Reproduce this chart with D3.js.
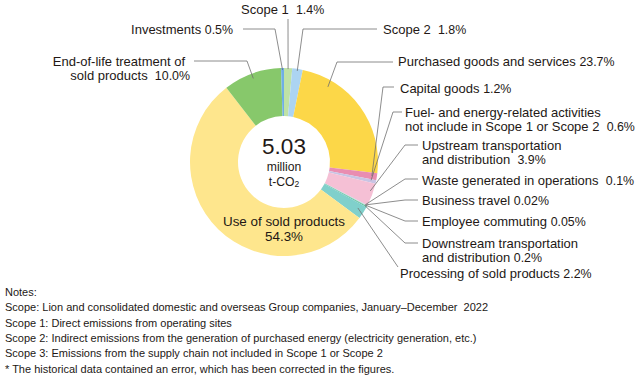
<!DOCTYPE html>
<html>
<head>
<meta charset="utf-8">
<script src="https://cdn.jsdelivr.net/npm/d3@7/dist/d3.min.js"></script>
<style>
  html, body { margin: 0; padding: 0; background: #fff; }
  svg text { font-family: "Liberation Sans", Arial, Helvetica, sans-serif; fill: #231815; white-space: pre; }
</style>
</head>
<body>
<svg id="chart" width="640" height="380"></svg>
<script>
// ---- Data (clockwise from 12 o'clock) ----
const categories = [
  "Scope 1", "Scope 2", "Purchased goods and services", "Capital goods",
  "Fuel- and energy-related activities", "Upstream transportation and distribution",
  "Waste generated in operations", "Business travel", "Employee commuting",
  "Downstream transportation and distribution", "Processing of sold products",
  "Use of sold products", "End-of-life treatment of sold products", "Investments"
];
const shares = [1.4, 1.8, 23.7, 1.2, 0.6, 3.9, 0.1, 0.02, 0.05, 0.2, 2.2, 54.3, 10.0, 0.5];
const shareLabels = ["1.4%", "1.8%", "23.7%", "1.2%", "0.6%", "3.9%", "0.1%", "0.02%", "0.05%", "0.2%", "2.2%", "54.3%", "10.0%", "0.5%"];
const totalValue = "5.03";
const totalUnit = ["million", "t-CO"];
const notes = [
  "Notes:",
  "Scope: Lion and consolidated domestic and overseas Group companies, January\u2013December  2022",
  "Scope 1: Direct emissions from operating sites",
  "Scope 2: Indirect emissions from the generation of purchased energy (electricity generation, etc.)",
  "Scope 3: Emissions from the supply chain not included in Scope 1 or Scope 2",
  "* The historical data contained an error, which has been corrected in the figures."
];

// ---- Styles / layout ----
const colors = ["#bfe2a6", "#acd4f2", "#fcd748", "#e98db1", "#c9c4e4", "#f5c0d5",
  "#b6d3ec", "#dddddd", "#7cc26c", "#64c2a4", "#80d0cb", "#fee68d", "#87c86b", "#6faee6"];

// label layout: text lines [text, percent, x], y of first line centre, anchor, leader points, anchor t & r on slice
const labelLayout = [
  {i:0, lines:[["Scope 1  ", "1.4%", 241]], y:9, anchor:"start", path:[[288,19]], t:0.5, r:93},
  {i:1, lines:[["Scope 2  ", "1.8%", 383]], y:29, anchor:"start", path:[[377,29],[303,29]], t:0.5, r:92},
  {i:2, lines:[["Purchased goods and services ", "23.7%", 398]], y:61, anchor:"start", path:[[393,62],[337,62]], t:0.22, r:87},
  {i:3, lines:[["Capital goods ", "1.2%", 400]], y:88, anchor:"start", path:[[394,87],[383,87]], t:0.5, r:89},
  {i:4, lines:[["Fuel- and energy-related activities", "", 405], ["not include in Scope 1 or Scope 2  ", "0.6%", 405]], y:112, anchor:"start", path:[[402,112],[393,112]], t:0.3, r:89},
  {i:5, lines:[["Upstream transportation", "", 422], ["and distribution  ", "3.9%", 422]], y:145, anchor:"start", path:[[418,145],[405,145]], t:0.37, r:91},
  {i:6, lines:[["Waste generated in operations  ", "0.1%", 422]], y:180, anchor:"start", path:[[418,179],[405,179]], t:0.5, r:92},
  {i:7, lines:[["Business travel ", "0.02%", 422]], y:200, anchor:"start", path:[[418,200],[405,200]], t:0.5, r:92},
  {i:8, lines:[["Employee commuting ", "0.05%", 422]], y:221, anchor:"start", path:[[418,221],[405,221]], t:0.5, r:92},
  {i:9, lines:[["Downstream transportation", "", 422], ["and distribution ", "0.2%", 422]], y:243, anchor:"start", path:[[418,243],[405,243]], t:0.5, r:92},
  {i:10, lines:[["Processing of sold products ", "2.2%", 400]], y:273, anchor:"start", path:[[398,267]], t:0.4, r:87},
  {i:12, lines:[["End-of-life treatment of", "", 185], ["sold products  ", "10.0%", 190]], y:61, anchor:"end", path:[[194,61],[247,61]], t:0.49, r:89},
  {i:13, lines:[["Investments ", "0.5%", 233]], y:29, anchor:"end", path:[[243,29],[275,29]], t:0.5, r:92}
];

const cx = 284, cy = 162, rOuter = 94, rInner = 46;
const fontSize = 13, lineH = 14;

const svg = d3.select("#chart");

const pie = d3.pie().sort(null).value(d => d.v).startAngle(0).endAngle(2 * Math.PI);
const arcs = pie(shares.map((v, i) => ({v, i})));
const arc = d3.arc().innerRadius(rInner).outerRadius(rOuter);

const g = svg.append("g").attr("transform", `translate(${cx},${cy})`);
g.selectAll("path.slice").data(arcs).join("path")
  .attr("class", "slice")
  .attr("d", arc)
  .attr("fill", d => colors[d.data.i]);

// center text
g.append("text").attr("text-anchor", "middle").attr("y", -8)
  .attr("font-size", 22.5).text(totalValue);
g.append("text").attr("text-anchor", "middle").attr("y", 9)
  .attr("font-size", 12.2).text(totalUnit[0]);
const co = g.append("text").attr("text-anchor", "middle").attr("y", 24).attr("font-size", 12.2);
co.append("tspan").text(totalUnit[1]);
co.append("tspan").attr("font-size", 8.5).attr("dy", 1).text("2");

// in-slice label for Use of sold products
g.append("text").attr("text-anchor", "middle").attr("y", 64)
  .attr("font-size", 13.4).text(categories[11]);
g.append("text").attr("text-anchor", "middle").attr("y", 79)
  .attr("font-size", 13.4).text(shareLabels[11]);

// leader lines
function anchorPoint(a, t, r) {
  const ang = a.startAngle + t * (a.endAngle - a.startAngle);
  return [cx + r * Math.sin(ang), cy - r * Math.cos(ang)];
}
const line = d3.line();
svg.selectAll("path.leader").data(labelLayout).join("path")
  .attr("class", "leader")
  .attr("d", d => line(d.path.concat([anchorPoint(arcs[d.i], d.t, d.r)])))
  .attr("fill", "none").attr("stroke", "#707070").attr("stroke-width", 0.8);

// labels
labelLayout.forEach(d => {
  d.lines.forEach((ln, k) => {
    const t = svg.append("text")
      .attr("x", ln[2]).attr("y", d.y + k * lineH + 4.5)
      .attr("text-anchor", d.anchor).attr("font-size", fontSize);
    t.append("tspan").text(ln[0]);
    if (ln[1]) t.append("tspan").attr("font-size", 12.4).text(ln[1]);
  });
});

// notes
svg.selectAll("text.note").data(notes).join("text")
  .attr("class", "note")
  .attr("x", 5).attr("y", (d, i) => 296 + i * 15.3)
  .attr("font-size", 11).text(d => d);
</script>
</body>
</html>
